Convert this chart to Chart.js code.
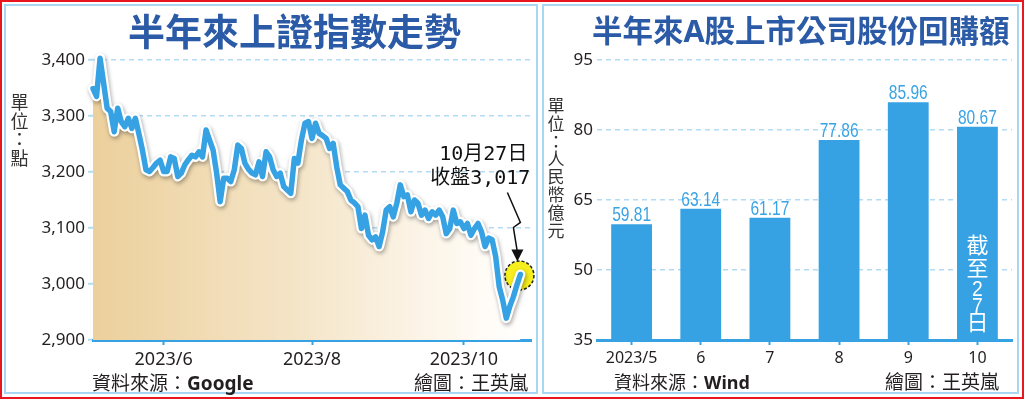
<!DOCTYPE html>
<html>
<head>
<meta charset="utf-8">
<script src="https://cdn.jsdelivr.net/npm/chart.js@4.4.0/dist/chart.umd.min.js"></script>
<style>
  html, body { margin: 0; padding: 0; background: #fff; }
  body { position: relative; width: 1024px; height: 399px; overflow: hidden; font-family: "Noto Sans CJK TC", sans-serif; }
  .abs { position: absolute; }
  #frame { left: 0; top: 0; width: 1024px; height: 399px; box-sizing: border-box; border: 2px solid #e8171f; }
  .panel { top: 4px; height: 390px; box-sizing: border-box; border: 2px solid #a9d6f2; }
  .title { color: #2b5ba6; font-weight: bold; line-height: 1; white-space: nowrap; }
  .unit { color: #333; line-break: anywhere; word-break: break-all; text-align: center; }
  .foot { color: #231f20; font-size: 19px; line-height: 20px; white-space: nowrap; }
  .foot b { font-family: "Noto Sans", sans-serif; font-weight: bold; }
  canvas { position: absolute; top: 0; }
</style>
</head>
<body>
<div id="frame" class="abs"></div>
<div class="abs panel" style="left:4px;width:534px;"></div>
<div class="abs panel" style="left:542px;width:477px;"></div>

<canvas id="lineChart" width="540" height="399" style="left:0;"></canvas>
<canvas id="barChart" width="484" height="399" style="left:540px;"></canvas>

<div class="abs title" style="left:128px;top:12px;font-size:37px;">半年來上證指數走勢</div>
<div class="abs title" style="left:592px;top:14px;font-size:30.5px;">半年來<span style="font-family:'Noto Sans',sans-serif;">A</span>股上市公司股份回購額</div>

<div class="abs unit" style="left:10px;top:92px;width:19px;font-size:18px;line-height:18.5px;">單位：點</div>
<div class="abs unit" style="left:547px;top:96px;width:18px;font-size:17px;line-height:17.8px;">單位：人民幣億元</div>

<div class="abs foot" style="left:92px;top:372px;">資料來源：<b>Google</b></div>
<div class="abs foot" style="left:414px;top:372px;">繪圖：王英嵐</div>
<div class="abs foot" style="left:614px;top:371px;font-size:18px;">資料來源：<b>Wind</b></div>
<div class="abs foot" style="left:885px;top:371px;">繪圖：王英嵐</div>

<script>
// 上證指數 (daily close, 2023/4/27 - 2023/10/27)
const stockIndex = [
  3349, 3335, 3403, 3359, 3314, 3308, 3272, 3314, 3290, 3281,
  3296, 3278, 3296, 3268, 3239, 3204, 3201, 3208, 3216, 3221,
  3201, 3201, 3227, 3224, 3192, 3198, 3213, 3222, 3230, 3227,
  3236, 3227, 3275, 3257, 3239, 3198, 3147, 3189, 3189, 3183,
  3204, 3248, 3242, 3216, 3205, 3198, 3195, 3218, 3192, 3236,
  3227, 3204, 3192, 3198, 3174, 3168, 3162, 3224, 3216, 3257,
  3287, 3290, 3260, 3287, 3269, 3265, 3260, 3242, 3251, 3209,
  3177, 3171, 3165, 3150, 3145, 3138, 3099, 3123, 3087, 3079,
  3084, 3067, 3093, 3132, 3138, 3120, 3144, 3177, 3156, 3159,
  3129, 3150, 3144, 3123, 3132, 3117, 3129, 3123, 3132, 3120,
  3090, 3099, 3132, 3108, 3111, 3099, 3108, 3087, 3099, 3108,
  3093, 3067, 3082, 3079, 3049, 2995, 2971, 2939, 2960, 2977,
  2998, 3017
];
const dayIdx = stockIndex.map((_, i) => i);
const monthTickIdx = [20, 62, 105];
const monthTickLabels = ['2023/6', '2023/8', '2023/10'];
const stockYTicks = [2900, 3000, 3100, 3200, 3300, 3400];
const closeNote = ['10月27日', '收盤3,017'];

// A股上市公司股份回購額 (人民幣億元)
const buyMonths = ['2023/5', '6', '7', '8', '9', '10'];
const buyValues = [59.81, 63.14, 61.17, 77.86, 85.96, 80.67];
const buyYTicks = [35, 50, 65, 80, 95];
const lastBarNote = ['截', '至', '2', '7', '日'];

const BLUE = '#36a2e3';
const GRID = '#b3dbf4';
const TXT = '#231f20';
const tickFont = { family: '"Noto Sans", sans-serif', size: 17 };

function fillGradient(context) {
  const { ctx, chartArea } = context.chart;
  if (!chartArea) return '#efd9ae';
  const g = ctx.createLinearGradient(chartArea.left, 0, chartArea.right, 0);
  g.addColorStop(0, '#ecd09c');
  g.addColorStop(0.45, '#f4e4c6');
  g.addColorStop(0.9, '#fffcf7');
  g.addColorStop(1, '#ffffff');
  return g;
}

// narrow text: draw squeezed horizontally
function narrowText(c, txt, x, y, sx) {
  c.save();
  c.translate(x, y);
  c.scale(sx, 1);
  c.fillText(txt, 0, 0);
  c.restore();
}

// yellow marker, shadow under the white outline, and the close callout
const closeCallout = {
  id: 'closeCallout',
  beforeDatasetDraw(chart, args) {
    if (args.index !== 1) return;
    const c = chart.ctx;
    const pts = chart.getDatasetMeta(0).data;
    const p = pts[pts.length - 1];
    c.save();
    c.beginPath();
    c.arc(p.x - 1, p.y + 1, 14.5, 0, Math.PI * 2);
    c.fillStyle = '#f6ee1e';
    c.fill();
    c.setLineDash([3, 2]);
    c.lineWidth = 1.5;
    c.strokeStyle = '#222';
    c.stroke();
    c.restore();
    c.save();
    c.shadowColor = 'rgba(0,0,0,0.35)';
    c.shadowBlur = 4;
    c.shadowOffsetX = 1;
    c.shadowOffsetY = 2;
  },
  afterDatasetDraw(chart, args) {
    if (args.index === 1) chart.ctx.restore();
  },
  afterDatasetsDraw(chart) {
    const c = chart.ctx;
    const pts = chart.getDatasetMeta(0).data;
    const p = pts[pts.length - 1];
    c.save();
    c.fillStyle = '#111';
    c.font = '20px "DejaVu Sans Mono", "Noto Sans CJK TC", monospace';
    c.textAlign = 'right';
    c.textBaseline = 'alphabetic';
    c.fillText(closeNote[0], p.x + 7, p.y - 114);
    c.fillText(closeNote[1], p.x + 10, p.y - 90);
    c.strokeStyle = '#111';
    c.lineWidth = 1.5;
    c.beginPath();
    c.moveTo(p.x - 13, p.y - 82);
    c.lineTo(p.x, p.y - 52);
    c.lineTo(p.x - 7, p.y - 47);
    c.lineTo(p.x - 3, p.y - 22);
    c.stroke();
    c.beginPath();
    c.moveTo(p.x - 3, p.y - 13);
    c.lineTo(p.x - 9, p.y - 25);
    c.lineTo(p.x + 3, p.y - 25);
    c.closePath();
    c.fillStyle = '#111';
    c.fill();
    c.restore();
  }
};

new Chart(document.getElementById('lineChart'), {
  type: 'line',
  data: {
    labels: dayIdx,
    datasets: [
      { data: stockIndex, borderColor: BLUE, borderWidth: 5.5, pointRadius: 0, tension: 0,
        fill: false, clip: false, order: 1, borderJoinStyle: 'round', borderCapStyle: 'round' },
      { data: stockIndex, borderColor: '#ffffff', borderWidth: 10, pointRadius: 0, tension: 0,
        fill: 'start', backgroundColor: fillGradient, clip: false, order: 2,
        borderJoinStyle: 'round', borderCapStyle: 'round' }
    ]
  },
  options: {
    responsive: false,
    animation: false,
    layout: { padding: { left: 33, right: 9, top: 60, bottom: 29 } },
    plugins: { legend: { display: false }, tooltip: { enabled: false } },
    scales: {
      x: {
        type: 'linear', min: 0, max: stockIndex.length + 2,
        afterBuildTicks: s => { s.ticks = monthTickIdx.map(v => ({ value: v })); },
        afterFit: s => { s.height = 30; },
        ticks: { callback: v => monthTickLabels[monthTickIdx.indexOf(v)], font: { ...tickFont, size: 18 },
                 color: TXT, padding: 4, maxRotation: 0, autoSkip: false },
        grid: { drawOnChartArea: false, tickLength: 5, tickColor: BLUE, tickWidth: 2 },
        border: { display: true, color: BLUE, width: 3 }
      },
      y: {
        min: 2900, max: 3400,
        afterBuildTicks: s => { s.ticks = stockYTicks.map(v => ({ value: v })); },
        afterFit: s => { s.width = 60; },
        ticks: { callback: v => v.toLocaleString('en-US'), font: tickFont, color: TXT, padding: 3 },
        grid: { color: GRID, lineWidth: 1.5, tickLength: 5, tickColor: GRID, tickWidth: 2 },
        border: { display: false, dash: [5, 4] }
      }
    }
  },
  plugins: [closeCallout]
});

const barLabels = {
  id: 'barLabels',
  afterDatasetsDraw(chart) {
    const c = chart.ctx;
    const bars = chart.getDatasetMeta(0).data;
    c.save();
    c.textAlign = 'center';
    c.fillStyle = '#3aa3e4';
    c.font = '21px "Liberation Sans", Arial, sans-serif';
    c.textBaseline = 'alphabetic';
    bars.forEach((b, i) => narrowText(c, buyValues[i].toFixed(2), b.x, b.y - 3, 0.74));
    // vertical note inside the last bar
    const last = bars[bars.length - 1];
    const baseY = chart.chartArea.bottom;
    const offs = [-95, -72, -50, -33, -18];
    c.fillStyle = '#ffffff';
    c.textBaseline = 'middle';
    lastBarNote.forEach((ch, i) => {
      if (/\d/.test(ch)) {
        c.font = '22px "Liberation Sans", Arial, sans-serif';
        narrowText(c, ch, last.x, baseY + offs[i], 0.88);
      } else {
        c.font = '22px "Noto Sans CJK TC", sans-serif';
        c.fillText(ch, last.x, baseY + offs[i]);
      }
    });
    c.restore();
  }
};

new Chart(document.getElementById('barChart'), {
  type: 'bar',
  data: {
    labels: buyMonths,
    datasets: [{ data: buyValues, backgroundColor: BLUE, barPercentage: 0.59, categoryPercentage: 1, borderWidth: 0 }]
  },
  options: {
    responsive: false,
    animation: false,
    layout: { padding: { left: 17, right: 12, top: 60, bottom: 29 } },
    plugins: { legend: { display: false }, tooltip: { enabled: false } },
    scales: {
      x: {
        afterFit: s => { s.height = 30; },
        ticks: { font: { ...tickFont, size: 16 }, color: TXT, padding: 4, maxRotation: 0 },
        grid: { drawOnChartArea: false, offset: false, tickLength: 5, tickColor: BLUE, tickWidth: 2 },
        border: { display: true, color: BLUE, width: 3 }
      },
      y: {
        min: 35, max: 95,
        afterBuildTicks: s => { s.ticks = buyYTicks.map(v => ({ value: v })); },
        afterFit: s => { s.width = 40; },
        ticks: { font: tickFont, color: TXT, padding: 4 },
        grid: { color: GRID, lineWidth: 1.5, drawTicks: false },
        border: { display: false, dash: [5, 4] }
      }
    }
  },
  plugins: [barLabels]
});
</script>
</body>
</html>
